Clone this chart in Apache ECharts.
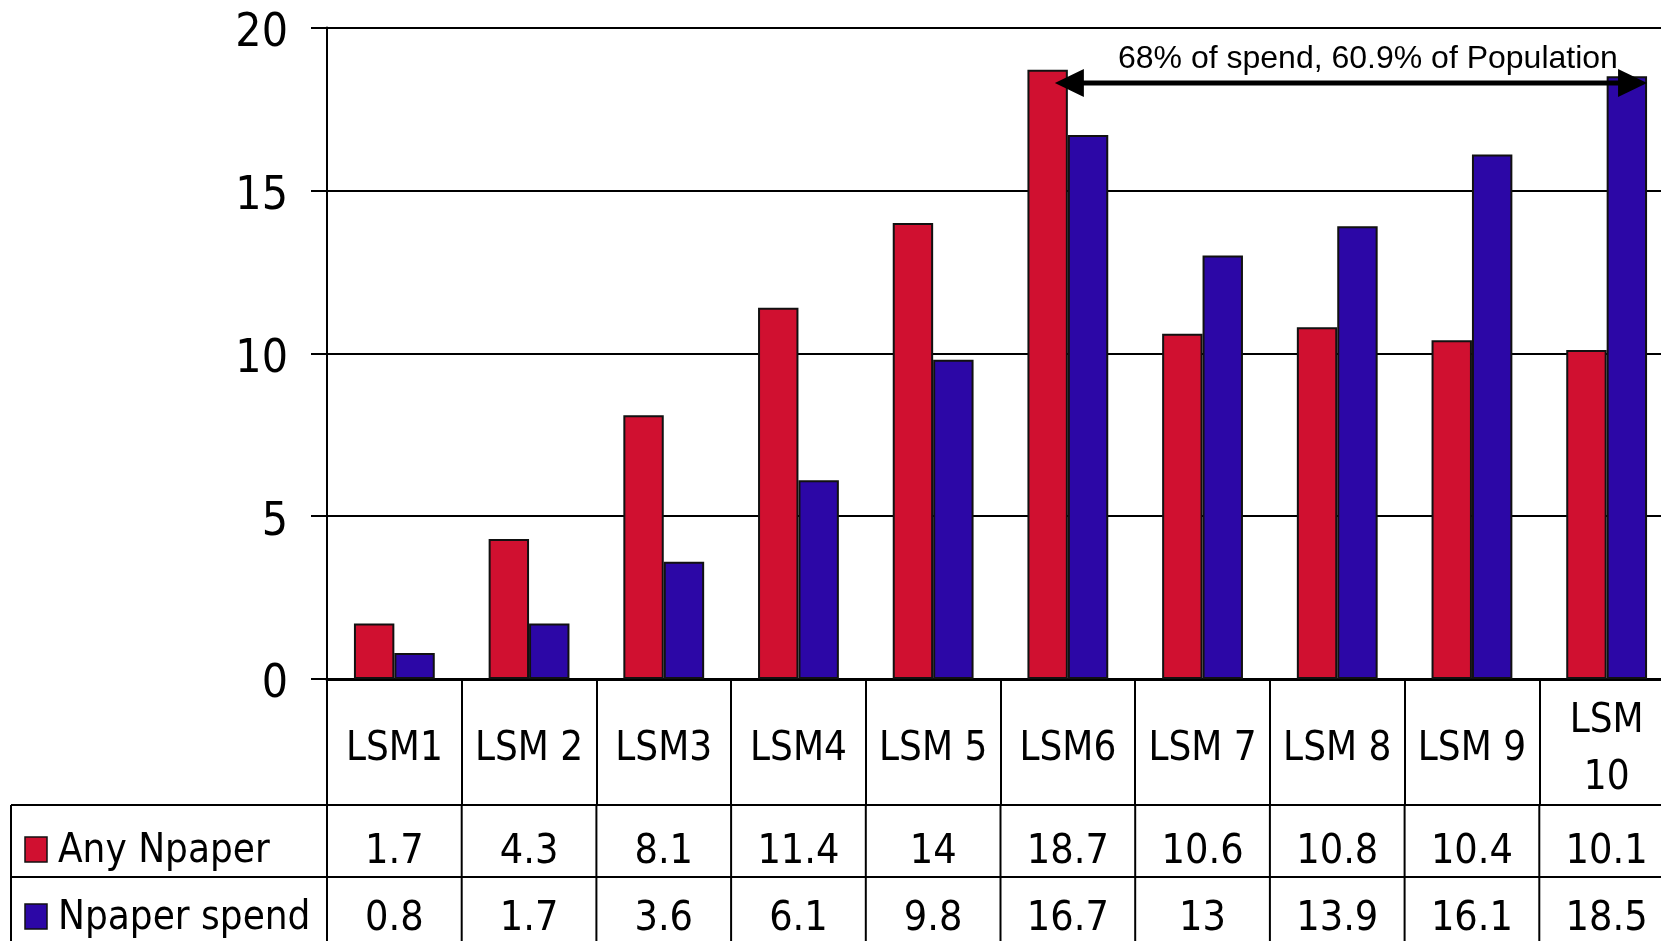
<!DOCTYPE html>
<html>
<head>
<meta charset="utf-8">
<style>
  html, body { margin: 0; padding: 0; background: #ffffff; }
  #chart { width: 1661px; height: 941px; }
</style>
<script src="https://cdn.jsdelivr.net/npm/echarts@6/dist/echarts.min.js"></script>
</head>
<body>
<div id="chart"></div>
<script>
// LSM groups and the two measures per group
const categories = ['LSM1', 'LSM 2', 'LSM3', 'LSM4', 'LSM 5', 'LSM6', 'LSM 7', 'LSM 8', 'LSM 9', 'LSM 10'];
const anyNpaper = [1.7, 4.3, 8.1, 11.4, 14, 18.7, 10.6, 10.8, 10.4, 10.1];
const npaperSpend = [0.8, 1.7, 3.6, 6.1, 9.8, 16.7, 13, 13.9, 16.1, 18.5];
const seriesNames = ['Any Npaper', 'Npaper spend'];
const yTicks = [0, 5, 10, 15, 20];

// Bracket over the top groups
const noteText = '68% of spend, 60.9% of Population';
const noteFrom = 'LSM6';
const noteTo = 'LSM 10';
const noteLevel = 18.3;

const RED = '#d01030';
const BLUE = '#2c07a6';
const FONT = '"DejaVu Sans Condensed", "DejaVu Sans", sans-serif';
const SIZE = 40;
const NUM_SIZE = 41;

const chart = echarts.init(document.getElementById('chart'), null, { renderer: 'canvas' });

const GRID = { left: 327, top: 27.5, width: 1347, height: 651.5 };
const ROW_H = 72;
const HEADER_H = 126;

chart.setOption({
  animation: false,
  backgroundColor: '#ffffff',
  grid: {
    left: GRID.left, top: GRID.top, width: GRID.width, height: GRID.height,
    containLabel: false, outerBoundsMode: 'none'
  },
  xAxis: {
    type: 'category',
    data: categories,
    boundaryGap: true,
    axisLine: { show: true, lineStyle: { color: '#000', width: 3 } },
    axisTick: { show: true, interval: 0, length: HEADER_H, alignWithLabel: false, lineStyle: { color: '#000', width: 2 } },
    axisLabel: {
      interval: 0,
      color: '#000',
      fontFamily: FONT,
      fontSize: SIZE,
      lineHeight: 57,
      margin: 71,
      verticalAlign: 'middle',
      formatter: v => (v.length > 5 ? v.replace(' ', '\n') : v)
    },
    splitLine: { show: false }
  },
  yAxis: {
    type: 'value',
    min: yTicks[0],
    max: yTicks[yTicks.length - 1],
    interval: 5,
    axisLine: { show: true, lineStyle: { color: '#000', width: 2 } },
    axisTick: { show: true, inside: false, length: 16, lineStyle: { color: '#000', width: 2 } },
    axisLabel: { color: '#000', fontFamily: FONT, fontSize: 46, margin: 39, verticalAlign: 'top', lineHeight: 13 },
    splitLine: { show: true, lineStyle: { color: '#000', width: 2 } }
  },
  series: [
    {
      name: seriesNames[0],
      type: 'bar',
      data: anyNpaper,
      barGap: '0%',
      barCategoryGap: '40%',
      itemStyle: { color: RED, borderColor: '#111', borderWidth: 2 }
    },
    {
      name: seriesNames[1],
      type: 'bar',
      data: npaperSpend,
      barGap: '0%',
      barCategoryGap: '40%',
      itemStyle: { color: BLUE, borderColor: '#111', borderWidth: 2 }
    }
  ]
});

// Data table under the axis and the bracket annotation, placed from the axis scales
function buildOverlay() {
  const px = i => chart.convertToPixel({ xAxisIndex: 0 }, i);
  const colW = px(1) - px(0);
  const yZero = chart.convertToPixel({ yAxisIndex: 0 }, 0);
  const tableLeft = 11;
  const tableRight = 1661;
  const row1Top = yZero + HEADER_H;
  const row2Top = row1Top + ROW_H;
  const row3Top = row2Top + ROW_H;
  const line = { stroke: '#000', lineWidth: 2 };
  const els = [];

  // horizontal rules
  [row1Top, row2Top].forEach(y => {
    els.push({ type: 'line', shape: { x1: tableLeft, y1: y, x2: tableRight, y2: y }, style: line, z: 10 });
  });
  // vertical rules in the value rows
  els.push({ type: 'line', shape: { x1: tableLeft, y1: row1Top, x2: tableLeft, y2: row3Top }, style: line, z: 10 });
  for (let i = 0; i <= categories.length; i++) {
    const x = px(i) - colW / 2;
    els.push({ type: 'line', shape: { x1: x, y1: row1Top, x2: x, y2: row3Top }, style: line, z: 10 });
  }

  const rows = [anyNpaper, npaperSpend];
  const colors = [RED, BLUE];
  const rowShift = [11, 6];
  rows.forEach((vals, r) => {
    const top = r === 0 ? row1Top : row2Top;
    const cy = top + ROW_H / 2 + rowShift[r];
    // legend key
    els.push({ type: 'rect', shape: { x: 25, y: cy - 15, width: 22, height: 25 },
      style: { fill: colors[r], stroke: '#111', lineWidth: 1.5 }, z: 10 });
    els.push({ type: 'text', x: 58, y: cy, style: {
      text: seriesNames[r], fill: '#000', font: SIZE + 'px ' + FONT, textAlign: 'left', textVerticalAlign: 'middle' }, z: 10 });
    vals.forEach((v, i) => {
      els.push({ type: 'text', x: px(i), y: cy, style: {
        text: String(v), fill: '#000', font: NUM_SIZE + 'px ' + FONT, textAlign: 'center', textVerticalAlign: 'middle' }, z: 10 });
    });
  });

  // bracket arrow spanning the marked groups
  const iFrom = categories.indexOf(noteFrom);
  const iTo = categories.indexOf(noteTo);
  const barW = colW * 0.3;
  const ay = chart.convertToPixel({ yAxisIndex: 0 }, noteLevel);
  const ax1 = px(iFrom) - 13;
  const ax2 = px(iTo) + barW;
  const head = 29, half = 14;
  els.push({ type: 'line', shape: { x1: ax1 + head - 2, y1: ay, x2: ax2 - head + 2, y2: ay },
    style: { stroke: '#000', lineWidth: 5 }, z: 20 });
  els.push({ type: 'polygon', shape: { points: [[ax1, ay], [ax1 + head, ay - half], [ax1 + head, ay + half]] },
    style: { fill: '#000' }, z: 20 });
  els.push({ type: 'polygon', shape: { points: [[ax2, ay], [ax2 - head, ay - half], [ax2 - head, ay + half]] },
    style: { fill: '#000' }, z: 20 });
  els.push({ type: 'text', x: (ax1 + ax2) / 2 + 17, y: ay - 24, style: {
    text: noteText, fill: '#000', font: '32px "Liberation Sans", Arial, sans-serif',
    textAlign: 'center', textVerticalAlign: 'middle' }, z: 20 });

  chart.setOption({ graphic: { elements: els } });
}
buildOverlay();
</script>
</body>
</html>
